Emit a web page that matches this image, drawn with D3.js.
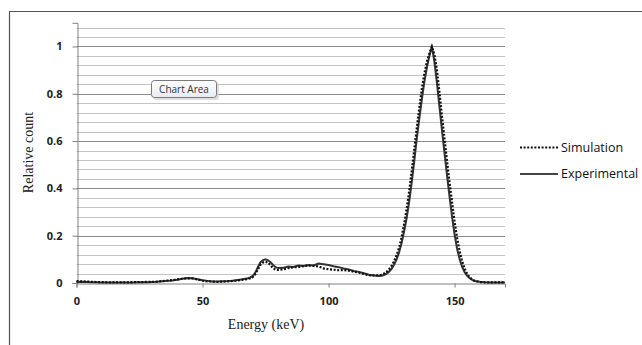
<!DOCTYPE html>
<html><head><meta charset="utf-8">
<script src="https://cdn.jsdelivr.net/npm/d3@7"></script>
<style>html,body{margin:0;padding:0;background:#fff;}svg{display:block;}</style>
</head><body>
<script>
const energy = [0,2,4,6,8,10,12,14,16,18,20,22,24,26,28,30,32,34,36,38,40,42,44,46,48,50,52,54,56,58,60,62,64,66,68,
69,70,71,72,73,74,75,76,77,78,79,80,
82,84,86,88,90,92,94,96,98,100,102,104,106,108,110,112,114,116,118,120,
121,122,123,124,125,126,127,128,129,130,131,132,133,134,135,136,137,138,139,140,141,142,143,144,145,146,147,148,149,150,151,152,153,154,155,156,157,158,
160,162,164,166,168,170];
const experimental = [0.004,0.005,0.004,0.003,0.003,0.002,0.002,0.002,0.002,0.002,0.002,0.002,0.003,0.003,0.003,0.004,0.005,0.007,0.009,0.011,0.014,0.018,0.021,0.020,0.016,0.012,0.009,0.006,0.006,0.007,0.008,0.010,0.013,0.016,0.020,
0.024,0.030,0.045,0.068,0.088,0.097,0.100,0.096,0.088,0.076,0.067,0.063,
0.064,0.070,0.068,0.074,0.072,0.076,0.074,0.082,0.079,0.076,0.071,0.067,0.061,0.057,0.051,0.047,0.041,0.035,0.032,0.030,
0.031,0.034,0.040,0.048,0.060,0.078,0.100,0.130,0.170,0.220,0.275,0.345,0.425,0.515,0.610,0.695,0.775,0.850,0.910,0.960,1.000,0.935,0.845,0.745,0.645,0.550,0.455,0.365,0.280,0.205,0.145,0.100,0.068,0.045,0.030,0.020,0.013,0.008,
0.005,0.003,0.002,0.002,0.002,0.002];
const simulation = [0.008,0.007,0.006,0.005,0.004,0.004,0.003,0.003,0.003,0.003,0.003,0.003,0.004,0.004,0.005,0.005,0.006,0.008,0.010,0.012,0.015,0.018,0.020,0.019,0.015,0.010,0.007,0.006,0.005,0.006,0.007,0.009,0.011,0.014,0.017,
0.020,0.026,0.038,0.058,0.077,0.087,0.090,0.086,0.074,0.062,0.056,0.055,
0.058,0.063,0.066,0.068,0.071,0.074,0.072,0.070,0.062,0.058,0.056,0.054,0.055,0.052,0.048,0.044,0.038,0.033,0.032,0.033,
0.035,0.040,0.047,0.058,0.072,0.092,0.118,0.150,0.195,0.250,0.315,0.390,0.475,0.565,0.655,0.740,0.820,0.885,0.935,0.970,1.000,0.965,0.900,0.805,0.705,0.610,0.515,0.425,0.340,0.260,0.190,0.135,0.092,0.060,0.038,0.024,0.015,0.009,
0.004,0.003,0.003,0.003,0.003,0.003];
const xTicks = [0,50,100,150];
const yTicks = [0,0.2,0.4,0.6,0.8,1];
const yMinor = d3.range(1,28).map(i=>+(i*0.04).toFixed(2));
const seriesNames = ["Simulation","Experimental"];

const W=642,H=345;
const svg=d3.select("body").append("svg").attr("width",W).attr("height",H);
const x=d3.scaleLinear().domain([0,170]).range([76.5,505]);
const y=d3.scaleLinear().domain([0,1.1]).range([283,22.8]);

// outer frame
svg.append("path").attr("d","M9.5,345 L9.5,11.5 L642,11.5").attr("fill","none").attr("stroke","#555").attr("stroke-width",1.2);

// gridlines
svg.append("g").selectAll("line").data(yMinor).join("line")
  .attr("x1",x(0)).attr("x2",x(170)).attr("y1",d=>Math.round(y(d))+0.5).attr("y2",d=>Math.round(y(d))+0.5)
  .attr("stroke",d=>Math.abs(d*5-Math.round(d*5))<1e-6?"#8c8c8c":"#c4c4c4").attr("stroke-width",1);

// axes
const xAxis=d3.axisBottom(x).tickValues(xTicks).tickSize(4).tickPadding(10).tickFormat(d3.format("d"));
const gx=svg.append("g").attr("transform",`translate(0,${Math.round(y(0))+0.5})`).call(xAxis);
const yAxis=d3.axisLeft(y).tickValues(yTicks).tickSize(5).tickPadding(10).tickFormat(d=>d===0?"0":d===1?"1":d3.format(".1f")(d));
const gy=svg.append("g").attr("transform",`translate(${Math.round(x(0))+0.5},0)`).call(yAxis);
[gx,gy].forEach(g=>{
  g.select(".domain").attr("stroke","#808080");
  g.selectAll(".tick line").attr("stroke","#808080");
  g.selectAll("text").attr("fill","#222").style("font-family","'Open Sans',sans-serif").style("font-size","11px").style("font-weight","700");
});

// lines
const line=d3.line().x((d,i)=>x(energy[i])).y(d=>y(d));
svg.append("path").datum(experimental).attr("d",line).attr("fill","none").attr("stroke","#333").attr("stroke-width",2);
svg.append("path").datum(simulation).attr("d",line).attr("fill","none").attr("stroke","#111").attr("stroke-width",2.2).attr("stroke-dasharray","2,1.6");

// axis titles
svg.append("text").attr("x",266).attr("y",329).attr("text-anchor","middle")
  .style("font-family","'Liberation Serif','Times New Roman',serif").style("font-size","14px").attr("fill","#222").text("Energy (keV)");
svg.append("text").attr("transform","translate(33,152.5) rotate(-90)").attr("text-anchor","middle")
  .style("font-family","'Liberation Serif','Times New Roman',serif").style("font-size","14px").attr("fill","#222").text("Relative count");

// legend
const leg=svg.append("g");
const legY=[147.5,174];
seriesNames.forEach((n,i)=>{
  leg.append("line").attr("x1",520).attr("x2",558).attr("y1",legY[i]).attr("y2",legY[i])
    .attr("stroke",i===0?"#111":"#444").attr("stroke-width",2).attr("stroke-dasharray",i===0?"2,1.6":null);
  leg.append("text").attr("x",561).attr("y",legY[i]).attr("dy","0.35em")
    .style("font-family","'Open Sans',sans-serif").style("font-size","12.5px").attr("fill","#111").text(n);
});

// "Chart Area" tooltip
const defs=svg.append("defs");
const gr=defs.append("linearGradient").attr("id","tg").attr("x1",0).attr("x2",0).attr("y1",0).attr("y2",1);
gr.append("stop").attr("offset","0%").attr("stop-color","#ffffff");
gr.append("stop").attr("offset","100%").attr("stop-color","#e8ebf2");
svg.append("rect").attr("x",153).attr("y",82).attr("width",66).attr("height",18).attr("rx",3).attr("fill","#d0d0d0").attr("opacity",0.7);
svg.append("rect").attr("x",151.5).attr("y",80.5).attr("width",65).attr("height",17).attr("rx",3).attr("fill","url(#tg)").attr("stroke","#7a7a7a");
svg.append("text").attr("x",184).attr("y",89.5).attr("dy","0.35em").attr("text-anchor","middle")
  .style("font-family","'Open Sans',sans-serif").style("font-size","10px").attr("fill","#333").text("Chart Area");
</script>
</body></html>
